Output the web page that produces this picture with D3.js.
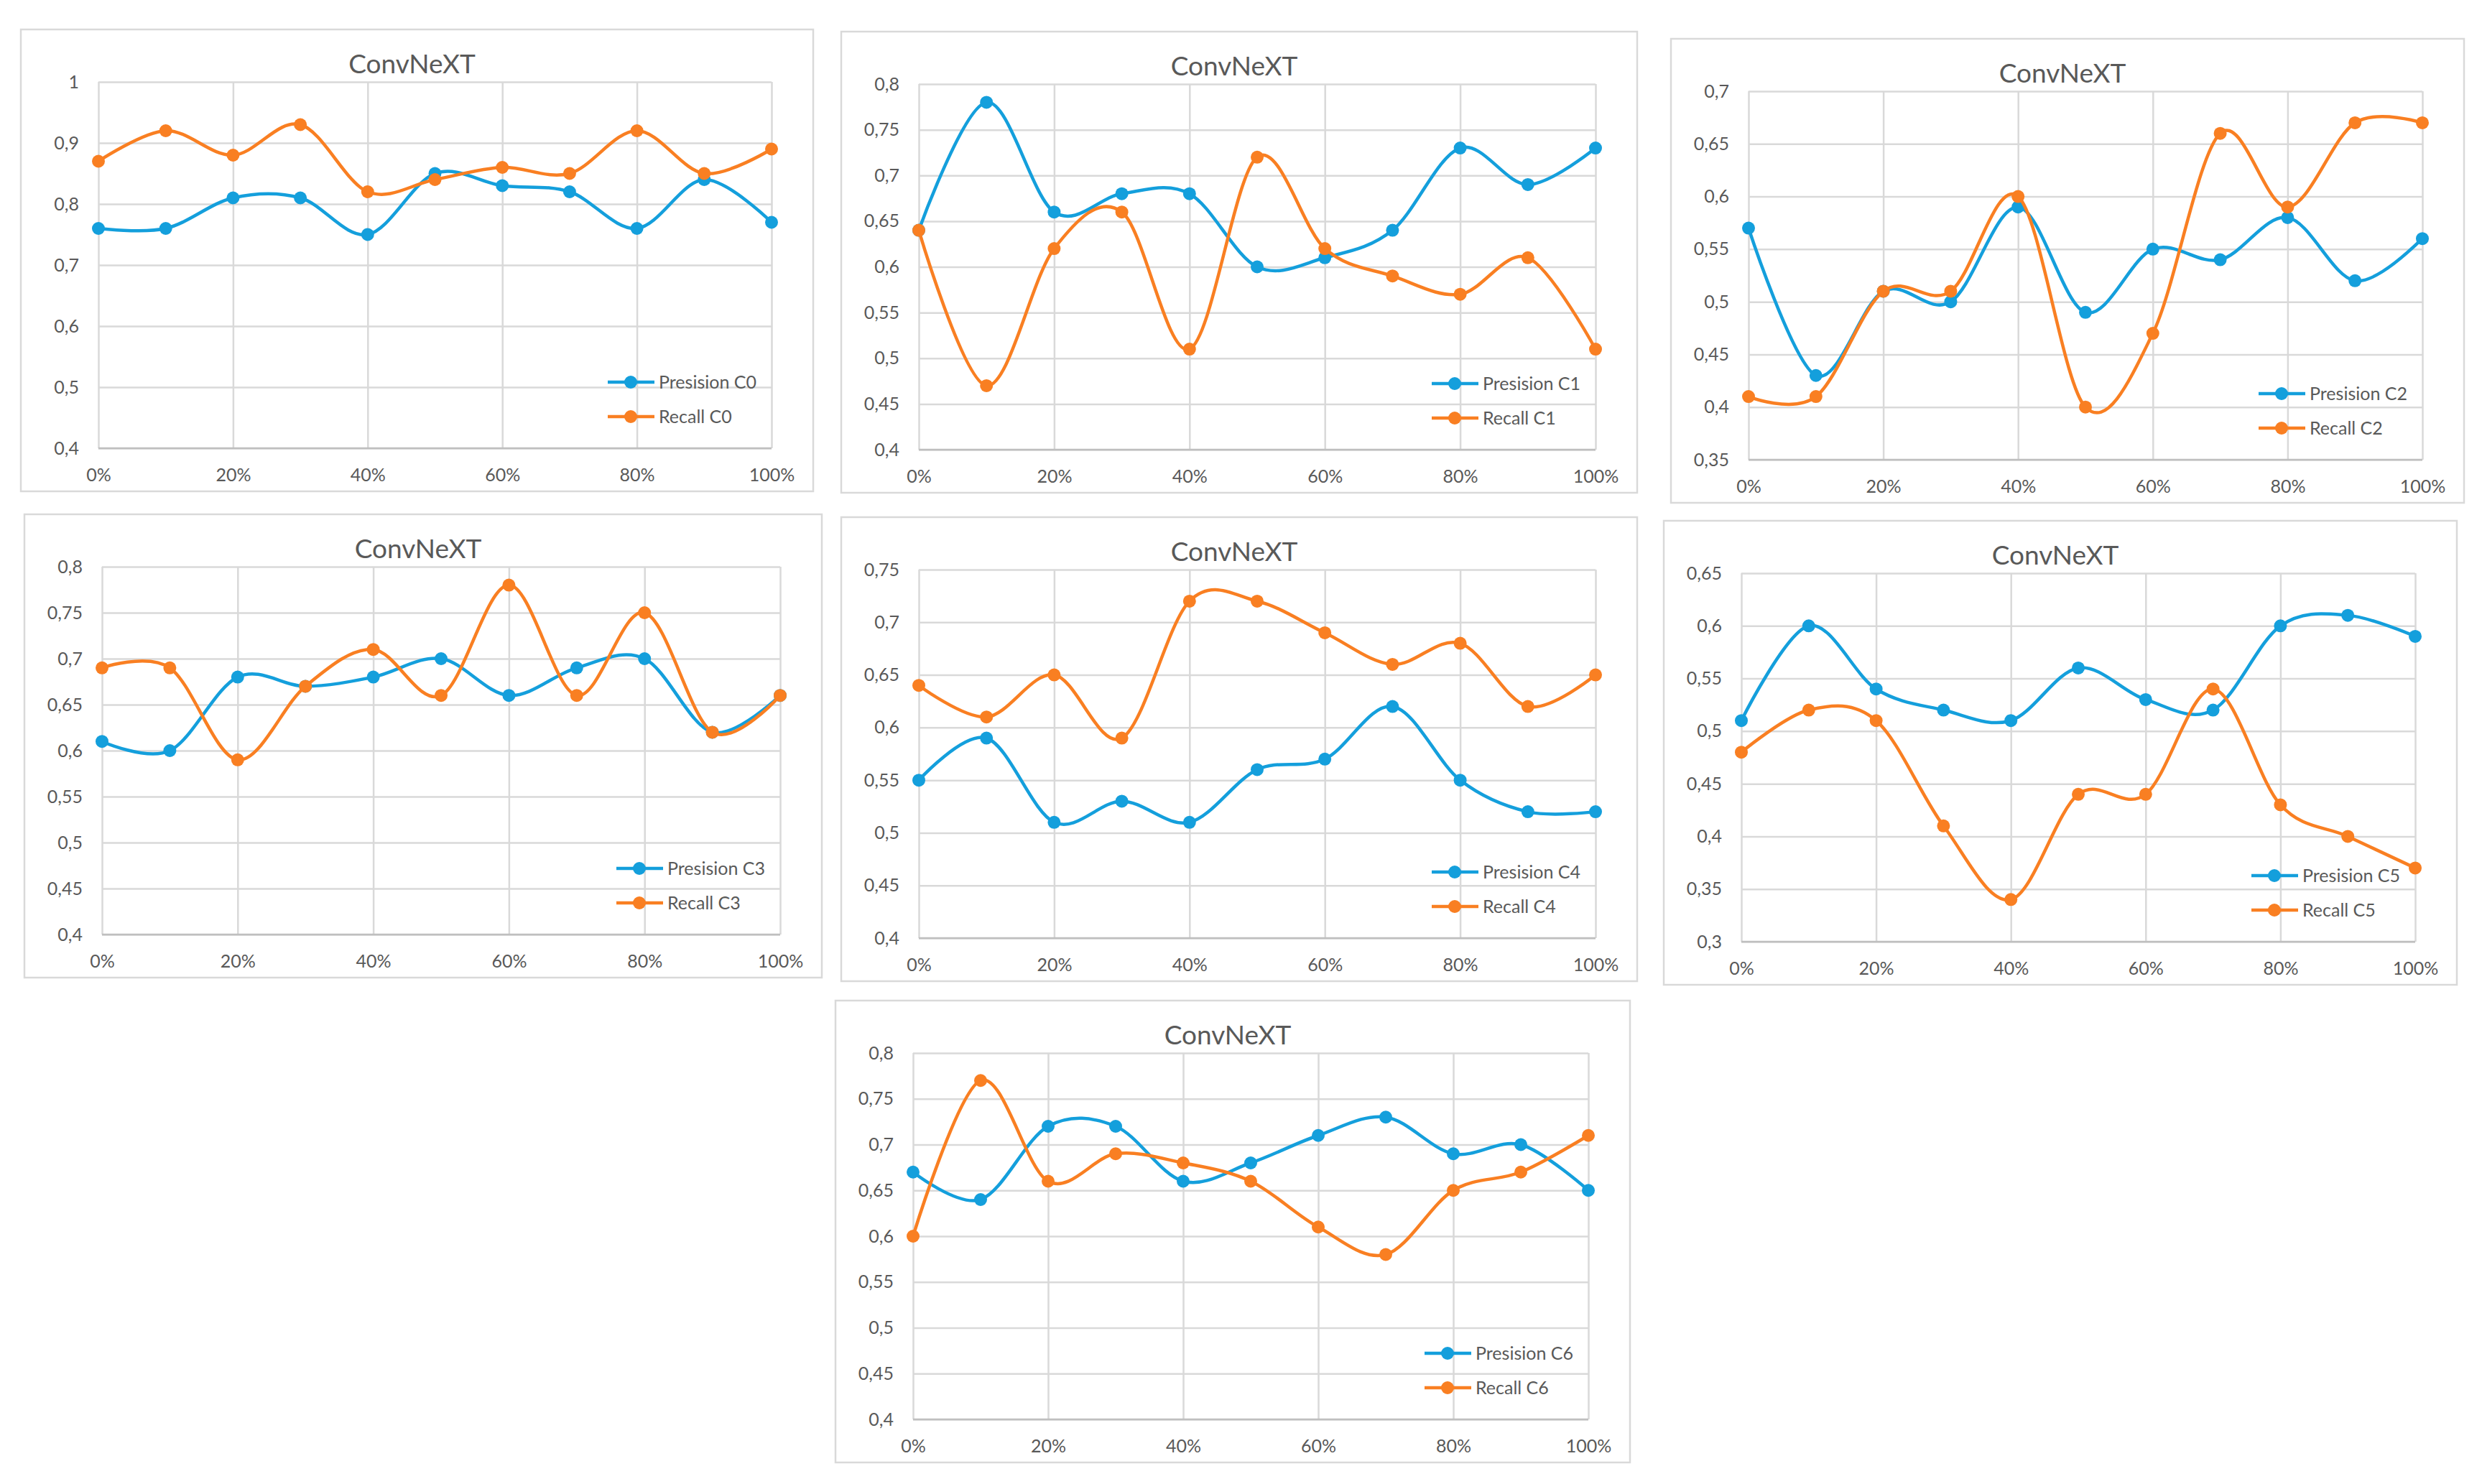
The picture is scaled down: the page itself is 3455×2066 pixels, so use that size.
<!DOCTYPE html>
<html>
<head>
<meta charset="utf-8">
<script src="https://cdn.jsdelivr.net/npm/d3@7"></script>
<style>
  body { margin: 0; background: #fff; }
  text { font-family: Lato, "Open Sans", sans-serif; fill: #595959; }
</style>
</head>
<body>
<svg id="chart" width="3455" height="2066"></svg>
<script>
// x categories (10% steps), only every other one gets a label
var steps = [0, 10, 20, 30, 40, 50, 60, 70, 80, 90, 100];
var xTickLabels = ["0%", "20%", "40%", "60%", "80%", "100%"];

// y ranges per class
var yRanges = [[0.4, 1, 0.1], [0.4, 0.8, 0.05], [0.35, 0.7, 0.05], [0.4, 0.8, 0.05],
               [0.4, 0.75, 0.05], [0.3, 0.65, 0.05], [0.4, 0.8, 0.05]];

var precC0 = [0.76, 0.76, 0.81, 0.81, 0.75, 0.85, 0.83, 0.82, 0.76, 0.84, 0.77];
var recC0  = [0.87, 0.92, 0.88, 0.93, 0.82, 0.84, 0.86, 0.85, 0.92, 0.85, 0.89];
var precC1 = [0.64, 0.78, 0.66, 0.68, 0.68, 0.60, 0.61, 0.64, 0.73, 0.69, 0.73];
var recC1  = [0.64, 0.47, 0.62, 0.66, 0.51, 0.72, 0.62, 0.59, 0.57, 0.61, 0.51];
var precC2 = [0.57, 0.43, 0.51, 0.50, 0.59, 0.49, 0.55, 0.54, 0.58, 0.52, 0.56];
var recC2  = [0.41, 0.41, 0.51, 0.51, 0.60, 0.40, 0.47, 0.66, 0.59, 0.67, 0.67];
var precC3 = [0.61, 0.60, 0.68, 0.67, 0.68, 0.70, 0.66, 0.69, 0.70, 0.62, 0.66];
var recC3  = [0.69, 0.69, 0.59, 0.67, 0.71, 0.66, 0.78, 0.66, 0.75, 0.62, 0.66];
var precC4 = [0.55, 0.59, 0.51, 0.53, 0.51, 0.56, 0.57, 0.62, 0.55, 0.52, 0.52];
var recC4  = [0.64, 0.61, 0.65, 0.59, 0.72, 0.72, 0.69, 0.66, 0.68, 0.62, 0.65];
var precC5 = [0.51, 0.60, 0.54, 0.52, 0.51, 0.56, 0.53, 0.52, 0.60, 0.61, 0.59];
var recC5  = [0.48, 0.52, 0.51, 0.41, 0.34, 0.44, 0.44, 0.54, 0.43, 0.40, 0.37];
var precC6 = [0.67, 0.64, 0.72, 0.72, 0.66, 0.68, 0.71, 0.73, 0.69, 0.70, 0.65];
var recC6  = [0.60, 0.77, 0.66, 0.69, 0.68, 0.66, 0.61, 0.58, 0.65, 0.67, 0.71];

var precision = [precC0, precC1, precC2, precC3, precC4, precC5, precC6];
var recall = [recC0, recC1, recC2, recC3, recC4, recC5, recC6];
var classNames = ["C0", "C1", "C2", "C3", "C4", "C5", "C6"];

// panel frames [x, y, w, h]
var frames = [[29, 41, 1103, 643], [1171, 44, 1108, 642], [2326, 54, 1104, 646],
              [34, 716, 1110, 645], [1171, 720, 1108, 646], [2316, 725, 1104, 646],
              [1163, 1393, 1106, 643]];

var blue = "#149fdc", orange = "#f97f22";
var svg = d3.select("#chart");

function drawPanel(i) {
  var f = frames[i];
  var g = svg.append("g").attr("transform", "translate(" + f[0] + "," + f[1] + ")");

  g.append("rect")
    .attr("x", 0).attr("y", 0).attr("width", f[2]).attr("height", f[3])
    .attr("fill", "#fff").attr("stroke", "#d9d9d9").attr("stroke-width", 2.5);

  var left = 108, top = 73, right = f[2] - 58, bottom = f[3] - 60;
  var yr = yRanges[i];
  var x = d3.scaleLinear().domain([0, 100]).range([left, right]);
  var y = d3.scaleLinear().domain([yr[0], yr[1]]).range([bottom, top]);
  var yTicks = d3.range(Math.round((yr[1] - yr[0]) / yr[2]) + 1).map(function(k) {
    return +(yr[0] + k * yr[2]).toFixed(2);
  });
  var fmt = function(v) { return String(v).replace(".", ","); };

  // horizontal gridlines + y labels
  g.append("g")
    .attr("transform", "translate(" + left + ",0)")
    .call(d3.axisLeft(y).tickValues(yTicks).tickFormat(fmt).tickSize(-(right - left)).tickPadding(27))
    .call(function(a) {
      a.select(".domain").remove();
      a.selectAll("line").attr("stroke", "#d9d9d9").attr("stroke-width", 2.5);
      a.selectAll("text").attr("font-size", 25).attr("fill", "#595959")
        .style("font-family", "Lato, 'Open Sans', sans-serif");
    });

  // vertical gridlines + x labels
  g.append("g")
    .attr("transform", "translate(0," + bottom + ")")
    .call(d3.axisBottom(x).tickValues([0, 20, 40, 60, 80, 100])
      .tickFormat(function(d, k) { return xTickLabels[k]; })
      .tickSize(-(bottom - top)).tickPadding(28))
    .call(function(a) {
      a.select(".domain").remove();
      a.selectAll("line").attr("stroke", "#d9d9d9").attr("stroke-width", 2.5);
      a.selectAll("text").attr("font-size", 25).attr("fill", "#595959")
        .style("font-family", "Lato, 'Open Sans', sans-serif");
    });

  // bottom axis line
  g.append("line")
    .attr("x1", left).attr("x2", right).attr("y1", bottom).attr("y2", bottom)
    .attr("stroke", "#bfbfbf").attr("stroke-width", 2.5);

  g.append("text")
    .attr("x", f[2] / 2 - 7).attr("y", 61)
    .attr("text-anchor", "middle").attr("font-size", 37)
    .text("ConvNeXT");

  var line = d3.line()
    .x(function(d, k) { return x(steps[k]); })
    .y(function(d) { return y(d); })
    .curve(d3.curveCardinal.tension(0));

  var series = [[precision[i], blue], [recall[i], orange]];
  series.forEach(function(s) {
    g.append("path").datum(s[0])
      .attr("d", line).attr("fill", "none")
      .attr("stroke", s[1]).attr("stroke-width", 4.5);
    g.selectAll(null).data(s[0]).enter().append("circle")
      .attr("cx", function(d, k) { return x(steps[k]); })
      .attr("cy", function(d) { return y(d); })
      .attr("r", 9).attr("fill", s[1]);
  });

  // legend
  var labels = ["Presision " + classNames[i], "Recall " + classNames[i]];
  var colors = [blue, orange];
  labels.forEach(function(lab, k) {
    var ly = bottom - 92 + k * 48;
    g.append("line")
      .attr("x1", right - 228).attr("x2", right - 163).attr("y1", ly).attr("y2", ly)
      .attr("stroke", colors[k]).attr("stroke-width", 4.5);
    g.append("circle").attr("cx", right - 196).attr("cy", ly).attr("r", 9).attr("fill", colors[k]);
    g.append("text").attr("x", right - 157).attr("y", ly).attr("dy", "0.35em")
      .attr("font-size", 25).text(lab);
  });
}

for (var i = 0; i < frames.length; i++) {
  drawPanel(i);
}
</script>
</body>
</html>
